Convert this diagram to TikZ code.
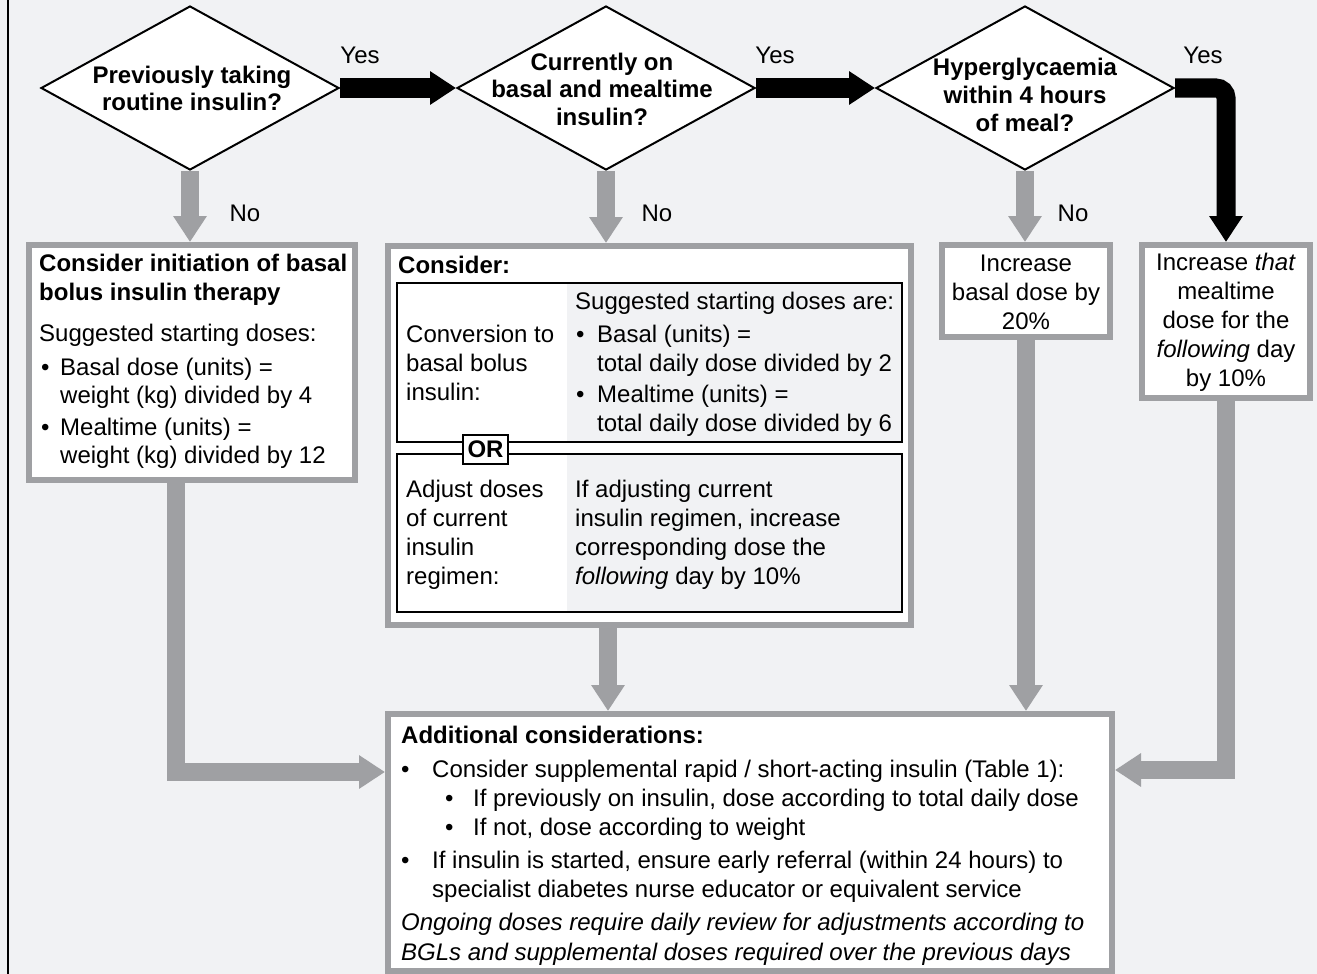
\documentclass[tikz,border=0pt]{standalone}
\usepackage{fontspec}
\setmainfont{Liberation Sans}
\usetikzlibrary{shapes.geometric,arrows.meta}
\definecolor{bggrey}{HTML}{F1F2F4}
\definecolor{arrowgrey}{HTML}{9FA0A3}

\begin{document}
\begin{tikzpicture}[x=1pt, y=-1pt,
  every node/.style={font=\fontsize{24}{29}\selectfont, inner sep=0pt},
  decision/.style={diamond, draw=black, line width=2pt, fill=white, minimum width=298pt, minimum height=164pt},
  qtext/.style={anchor=base, align=center, font=\fontsize{24}{27.5}\selectfont\bfseries},
  greybox/.style={rectangle, draw=arrowgrey, line width=6pt, fill=white},
  inbox/.style={rectangle, draw=black, line width=1.2pt},
  txt/.style={anchor=base west, align=left},
  ctxt/.style={anchor=base, align=center},
  bold/.style={font=\fontsize{24}{29}\selectfont\bfseries},
  yesarrow/.style={draw=black, line width=19pt, -{Triangle[length=26pt,width=32pt]}},
  noarrow/.style={draw=arrowgrey, line width=18pt, line join=miter, -{Triangle[length=26pt,width=32pt]}}]
  \useasboundingbox (0,0) rectangle (1317,974);
  \fill[bggrey] (0,0) rectangle (1317,974);
  \draw[black, line width=2.5pt] (8,0) -- (8,974);

  % decisions (multi-line texts sit on their last baseline)
  \node[decision] (prev) at (190,88) {};
  \node[decision] (basmeal) at (606,88) {};
  \node[decision] (hyper) at (1025,88) {};
  \node[qtext] at (192,110.5) {Previously taking\\routine insulin?};
  \node[qtext] at (602,125) {Currently on\\basal and mealtime\\insulin?};
  \node[qtext] at (1025,131) {Hyperglycaemia\\within 4 hours\\of meal?};

  % boxes
  \node[greybox, minimum width=326pt, minimum height=235pt] (init) at (192,362.5) {};
  \node[greybox, minimum width=523pt, minimum height=379pt] (consider) at (649.5,435.5) {};
  \node[greybox, minimum width=168pt, minimum height=92pt] (basal) at (1026,291) {};
  \node[greybox, minimum width=168pt, minimum height=153pt] (meal) at (1226,321.5) {};
  \node[greybox, minimum width=724pt, minimum height=257pt] (extra) at (750,842.5) {};

  % box 1
  \node[txt, bold] at (39,300) {Consider initiation of basal\\bolus insulin therapy};
  \node[txt] at (39,341) {Suggested starting doses:};
  \node[txt] at (41,375) {\textbullet};
  \node[txt, font=\fontsize{24}{28}\selectfont] at (60,403) {Basal dose (units) =\\weight (kg) divided by 4};
  \node[txt] at (41,435) {\textbullet};
  \node[txt, font=\fontsize{24}{28}\selectfont] at (60,463) {Mealtime (units) =\\weight (kg) divided by 12};

  % box 2
  \fill[bggrey] (567,283) rectangle (902,442);
  \fill[bggrey] (567,454) rectangle (902,612);
  \node[inbox, minimum width=505pt, minimum height=159pt] (convert) at (649.5,362.5) {};
  \node[inbox, minimum width=505pt, minimum height=158pt] (adjust) at (649.5,533) {};
  \node[inbox, fill=white, minimum width=45pt, minimum height=29pt, bold] (or) at (485.5,449.5) {OR};
  \node[txt, bold] at (398,273) {Consider:};
  \node[txt] at (406,400) {Conversion to\\basal bolus\\insulin:};
  \node[txt] at (575,309) {Suggested starting doses are:};
  \node[txt] at (576,342) {\textbullet};
  \node[txt] at (597,371) {Basal (units) =\\total daily dose divided by 2};
  \node[txt] at (576,402) {\textbullet};
  \node[txt] at (597,431) {Mealtime (units) =\\total daily dose divided by 6};
  \node[txt, font=\fontsize{24}{28.7}\selectfont] at (406,584) {Adjust doses\\of current\\insulin\\regimen:};
  \node[txt, font=\fontsize{24}{28.7}\selectfont] at (575,584) {If adjusting current\\insulin regimen, increase\\corresponding dose the\\\textit{following} day by 10\%};

  % boxes 3 and 4
  \node[ctxt] at (1026,329) {Increase\\basal dose by\\20\%};
  \node[ctxt] at (1226,386) {Increase \textit{that}\\mealtime\\dose for the\\\textit{following} day\\by 10\%};

  % box 5
  \node[txt, bold] at (401,743) {Additional considerations:};
  \node[txt] at (401,777) {\textbullet};
  \node[txt] at (432,777) {Consider supplemental rapid / short-acting insulin (Table 1):};
  \node[txt] at (445,806) {\textbullet};
  \node[txt] at (473,806) {If previously on insulin, dose according to total daily dose};
  \node[txt] at (445,835) {\textbullet};
  \node[txt] at (473,835) {If not, dose according to weight};
  \node[txt] at (401,868) {\textbullet};
  \node[txt] at (432,897) {If insulin is started, ensure early referral (within 24 hours) to\\specialist diabetes nurse educator or equivalent service};
  \node[txt, font=\fontsize{24}{30}\selectfont\itshape] at (401,960) {Ongoing doses require daily review for adjustments according to\\BGLs and supplemental doses required over the previous days};

  % yes / no
  \draw[yesarrow] (prev.east) -- (basmeal.west);
  \draw[yesarrow] (basmeal.east) -- (hyper.west);
  \draw[yesarrow, rounded corners=10pt] (hyper.east) -| (meal.north);
  \draw[noarrow] (prev.south) -- (init.north -| prev.south);
  \draw[noarrow] (basmeal.south) -- (consider.north -| basmeal.south);
  \draw[noarrow] (hyper.south) -- (basal.north -| hyper.south);
  \node at (360,55) {Yes};
  \node at (775,55) {Yes};
  \node at (1203,55) {Yes};
  \node at (245,213) {No};
  \node at (657,213) {No};
  \node at (1073,213) {No};

  % into box 5
  \draw[noarrow] ([xshift=-16pt]init.south) |- (extra.west |- 0,772);
  \draw[noarrow] (consider.south -| 608,0) -- (extra.north -| 608,0);
  \draw[noarrow] (basal.south) -- (extra.north -| basal.south);
  \draw[noarrow] (meal.south) |- (extra.east |- 0,770);
\end{tikzpicture}
\end{document}
